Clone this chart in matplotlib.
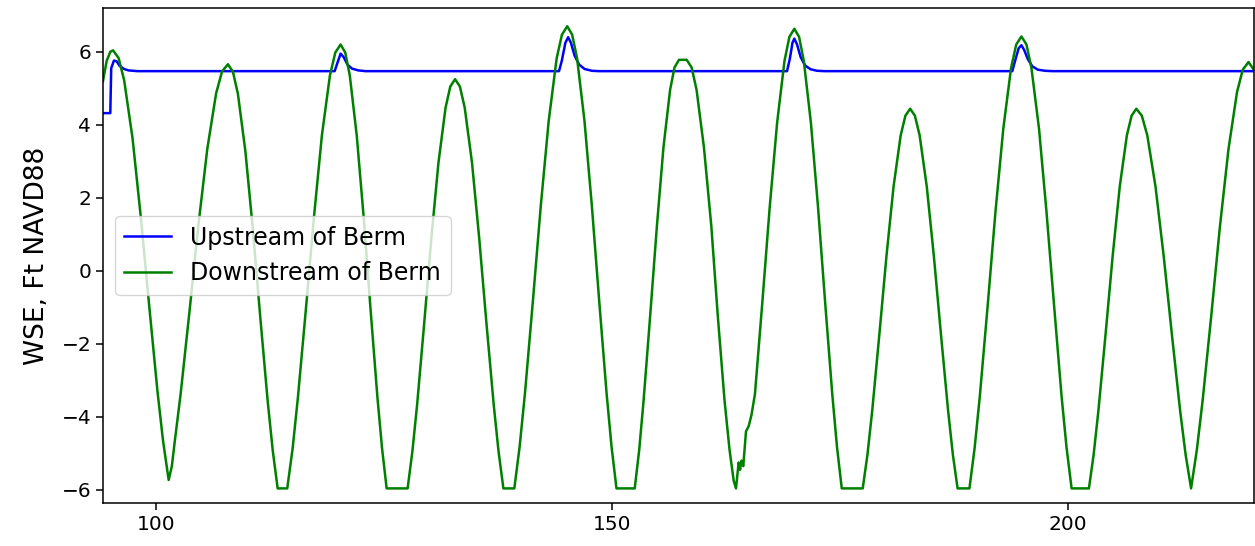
import matplotlib
matplotlib.use('Agg')
import matplotlib.pyplot as plt

# Upstream of berm (time, WSE ft NAVD88)
time_up = [94.2, 95.0, 95.1, 95.4, 95.7, 96.0, 96.5, 97.0, 98.0,
           119.6, 119.8, 120.25, 120.6, 121.0, 121.5, 122.2, 123.0,
           144.2, 144.5, 144.9, 145.2, 145.5, 145.9, 146.4, 147.0, 147.8, 148.6,
           169.2, 169.5, 169.8, 170.0, 170.3, 170.7, 171.2, 171.8, 172.5, 173.3,
           193.9, 194.2, 194.6, 194.9, 195.2, 195.6, 196.1, 196.7, 197.5, 198.3, 220.4]
wse_up = [4.32, 4.32, 5.55, 5.76, 5.74, 5.62, 5.53, 5.49, 5.47,
          5.47, 5.62, 5.95, 5.85, 5.65, 5.54, 5.49, 5.47,
          5.47, 5.75, 6.25, 6.40, 6.25, 5.90, 5.65, 5.53, 5.48, 5.47,
          5.47, 5.80, 6.25, 6.36, 6.20, 5.85, 5.62, 5.52, 5.48, 5.47,
          5.47, 5.75, 6.10, 6.18, 6.05, 5.80, 5.60, 5.51, 5.48, 5.47, 5.47]

# Downstream of berm (time, WSE ft NAVD88)
time_down = [94.2, 94.6, 95.0,
             95.3, 95.91, 96.52, 97.44, 98.35, 99.27, 100.18, 100.79, 101.4,
             101.75,
             102.05, 102.7, 103.68, 104.65, 105.63, 106.6, 107.25, 107.9,
             108.45, 108.99, 109.81, 110.63, 111.44, 112.26, 112.81, 113.35,
             114.4,
             114.99, 115.57, 116.45, 117.33, 118.2, 119.08, 119.67, 120.25,
             120.76, 121.26, 122.02, 122.78, 123.53, 124.29, 124.8, 125.3,
             127.6,
             128.12, 128.64, 129.42, 130.2, 130.98, 131.76, 132.28, 132.8,
             133.33, 133.86, 134.66, 135.45, 136.24, 137.04, 137.57, 138.1,
             139.3,
             139.88, 140.46, 141.33, 142.2, 143.07, 143.94, 144.52, 145.1,
             145.64, 146.18, 146.99, 147.8, 148.61, 149.42, 149.96, 150.5,
             152.5,
             152.99, 153.47, 154.2, 154.93, 155.65, 156.38, 156.86, 157.35,
             158.2,
             158.74, 159.28, 160.09, 160.9, 161.6, 162.35, 162.9, 163.35, 163.6,
             163.9, 164.05, 164.2, 164.4, 164.7, 165.0, 165.3,
             165.68, 166.49, 167.3, 168.11, 168.92, 169.46, 170.0,
             170.52, 171.04, 171.82, 172.6, 173.38, 174.16, 174.68, 175.2,
             177.5,
             178.02, 178.54, 179.32, 180.1, 180.88, 181.66, 182.18, 182.7,
             183.22, 183.74, 184.52, 185.3, 186.08, 186.86, 187.38, 187.9,
             189.2,
             189.77, 190.34, 191.2, 192.05, 192.91, 193.76, 194.33, 194.9,
             195.45, 196.0, 196.83, 197.65, 198.48, 199.3, 199.85, 200.4,
             202.3,
             202.82, 203.34, 204.12, 204.9, 205.68, 206.46, 206.98, 207.5,
             208.1, 208.7, 209.6, 210.5, 211.4, 212.3, 212.9, 213.5,
             214.13, 214.76, 215.71, 216.65, 217.6, 218.54, 219.17, 219.8,
             220.4]
wse_down = [5.2, 5.75, 6.0,
            6.04, 5.83, 5.22, 3.63, 1.46, -0.97, -3.32, -4.67, -5.73,
            -5.35,
            -4.71, -3.40, -1.12, 1.23, 3.33, 4.86, 5.46, 5.66,
            5.45, 4.85, 3.28, 1.14, -1.26, -3.58, -4.92, -5.96,
            -5.96,
            -4.87, -3.47, -1.04, 1.47, 3.71, 5.35, 5.98, 6.2,
            5.98, 5.35, 3.71, 1.47, -1.04, -3.47, -4.87, -5.96,
            -5.96,
            -4.95, -3.67, -1.43, 0.89, 2.96, 4.47, 5.05, 5.25,
            5.05, 4.47, 2.96, 0.89, -1.43, -3.67, -4.95, -5.96,
            -5.96,
            -4.82, -3.37, -0.84, 1.78, 4.11, 5.82, 6.47, 6.70,
            6.47, 5.82, 4.11, 1.78, -0.84, -3.37, -4.82, -5.96,
            -5.96,
            -4.91, -3.56, -1.21, 1.22, 3.38, 4.96, 5.57, 5.78,
            5.78,
            5.57, 4.96, 3.38, 1.22, -1.21, -3.56, -4.91, -5.75, -5.96,
            -5.25, -5.45, -5.2, -5.35, -4.4, -4.25, -3.95,
            -3.38, -0.87, 1.74, 4.05, 5.75, 6.41, 6.63,
            6.41, 5.75, 4.05, 1.74, -0.87, -3.38, -4.83, -5.96,
            -5.96,
            -5.03, -3.83, -1.75, 0.40, 2.31, 3.71, 4.25, 4.44,
            4.25, 3.71, 2.31, 0.40, -1.75, -3.83, -5.03, -5.96,
            -5.96,
            -4.85, -3.43, -0.95, 1.61, 3.89, 5.55, 6.20, 6.42,
            6.20, 5.55, 3.89, 1.61, -0.95, -3.43, -4.85, -5.96,
            -5.96,
            -5.03, -3.83, -1.75, 0.40, 2.31, 3.71, 4.25, 4.44,
            4.25, 3.71, 2.31, 0.40, -1.75, -3.83, -5.03, -5.96,
            -4.91, -3.57, -1.24, 1.18, 3.33, 4.90, 5.51, 5.72,
            5.5]

yticks = [-6, -4, -2, 0, 2, 4, 6]
xticks = [100, 150, 200]

fig = plt.figure(figsize=(12.55, 5.46), dpi=100)
ax = fig.add_axes([103/1255, 43/546, 1151/1255, 495/546])

ax.plot(time_up, wse_up, color='blue', lw=1.8, label='Upstream of Berm')
ax.plot(time_down, wse_down, color='green', lw=1.8, label='Downstream of Berm')

ax.set_xlim(94.2, 220.4)
ax.set_ylim(-6.36, 7.2)
ax.set_xticks(xticks)
ax.set_yticks(yticks)
ax.tick_params(labelsize=14.5, length=5, width=1.1)
for s in ax.spines.values():
    s.set_linewidth(1.1)

ax.set_ylabel('WSE, Ft NAVD88', fontsize=19, labelpad=8)
ax.legend(loc='center left', fontsize=17)

plt.savefig('out.png', dpi=100)
